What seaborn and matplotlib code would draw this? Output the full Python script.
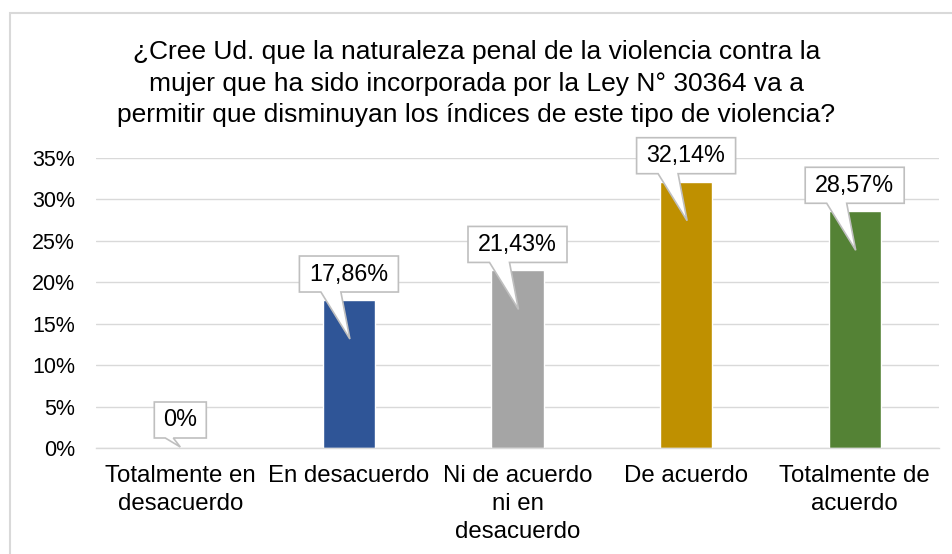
import matplotlib
matplotlib.use("Agg")
import matplotlib.pyplot as plt
import seaborn as sns
import pandas as pd
from matplotlib.patches import Polygon, Rectangle
from matplotlib.ticker import FuncFormatter

categories = ["Totalmente en\ndesacuerdo", "En desacuerdo", "Ni de acuerdo\nni en\ndesacuerdo",
              "De acuerdo", "Totalmente de\nacuerdo"]
values = [0.0, 17.86, 21.43, 32.14, 28.57]
labels = ["0%", "17,86%", "21,43%", "32,14%", "28,57%"]
colors = ["#4472C4", "#2F5597", "#A5A5A5", "#BF9000", "#548235"]
title = ("¿Cree Ud. que la naturaleza penal de la violencia contra la\n"
         "mujer que ha sido incorporada por la Ley N° 30364 va a\n"
         "permitir que disminuyan los índices de este tipo de violencia?")

sns.set_theme(style="white")
plt.rcParams["font.family"] = ["Liberation Sans", "DejaVu Sans"]

W, H = 953, 554
fig = plt.figure(figsize=(W / 100, H / 100), dpi=100)
ax = fig.add_axes([96 / W, 1 - 448 / H, (939 - 96) / W, (448 - 158) / H])

df = pd.DataFrame({"cat": categories, "val": values})
sns.barplot(data=df, x="cat", y="val", hue="cat", palette=colors, legend=False,
            width=0.31, ax=ax, saturation=1)

ax.set_ylim(0, 35)
ax.set_xlim(-0.5, len(categories) - 0.5)
ax.set_yticks(range(0, 36, 5))
ax.yaxis.set_major_formatter(FuncFormatter(lambda v, p: f"{int(v)}%"))
ax.grid(axis="y", color="#D9D9D9", linewidth=1)
ax.set_axisbelow(True)
for s in ["left", "right", "top"]:
    ax.spines[s].set_visible(False)
ax.spines["bottom"].set_color("#D9D9D9")
ax.spines["bottom"].set_linewidth(1)
ax.tick_params(axis="y", length=0, labelsize=15.5, colors="#000000", pad=15)
ax.tick_params(axis="x", length=0, labelsize=17.3, colors="#000000", pad=12)
for t in ax.get_xticklabels():
    t.set_linespacing(1.35)
ax.set_xlabel("")
ax.set_ylabel("")

fig.text(0.5, 1 - 40 / H, title, ha="center", va="top", fontsize=19,
         linespacing=1.4, color="#000000")

# outer chart border
fig.patches.append(Rectangle((10 / W, -0.05), 1.1, 1 - 13 / H + 0.05, transform=fig.transFigure,
                             fill=False, edgecolor="#D9D9D9", linewidth=1.5))

# callouts
fig.canvas.draw()
inv = fig.transFigure.inverted()
for i, (v, lab) in enumerate(zip(values, labels)):
    px, py = ax.transData.transform((i, v))
    py = H - py  # to top-down pixels
    bw = 99 if v > 0 else 52
    bh = 36
    if v > 0:
        bottom = py - 8
        tip = (px + 1, py + 39)
        b1, b2 = px - 28, px - 8
    else:
        bottom = py - 10
        tip = (px, py - 1)
        b1, b2 = px - 15, px - 7
    cx = px
    L, R, T, B = cx - bw / 2, cx + bw / 2, bottom - bh, bottom
    pts = [(L, T), (R, T), (R, B), (b2, B), tip, (b1, B), (L, B)]
    pts_fig = [inv.transform((x, H - y)) for x, y in pts]
    poly = Polygon(pts_fig, closed=True, transform=fig.transFigure, facecolor="white",
                   edgecolor="#BFBFBF", linewidth=1.2, zorder=5)
    fig.patches.append(poly)
    tx, ty = inv.transform((cx, H - (T + B) / 2))
    fig.text(tx, ty, lab, ha="center", va="center", fontsize=16.8, color="#000000", zorder=6)

fig.savefig("out.png", dpi=100)
